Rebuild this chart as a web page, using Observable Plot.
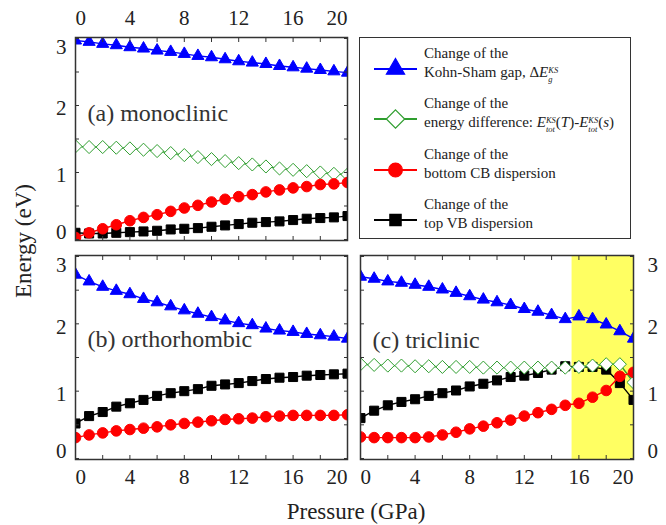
<!DOCTYPE html>
<html><head><meta charset="utf-8">
<script src="https://cdn.jsdelivr.net/npm/d3@7"></script>
<script src="https://cdn.jsdelivr.net/npm/@observablehq/plot@0.6"></script>
<style>
body{margin:0;background:#fff;}
#wrap{position:relative;width:666px;height:525px;font-family:"Liberation Serif","Times New Roman",serif;color:#222;overflow:hidden;}
.panel{position:absolute;}
.panel svg{overflow:visible;}
#legend{position:absolute;left:359px;top:37px;width:270px;height:200px;border:1.5px solid #333;}
.entry{position:absolute;left:0;width:270px;height:40px;}
.entry svg{position:absolute;left:13px;top:12px;}
.entry .txt{position:absolute;left:64px;top:0;font-size:15px;line-height:19px;white-space:nowrap;color:#222;}
.sx{display:inline-block;vertical-align:-5px;font-size:8.5px;line-height:9px;font-style:italic;}
.sx span{display:block;}
.title{position:absolute;font-family:"Liberation Serif","Times New Roman",serif;font-size:23px;white-space:nowrap;color:#222;}
</style></head><body><div id="wrap"></div>
<script>
// ---------- data ----------
const pressureGPa = [0,1,2,3,4,5,6,7,8,9,10,11,12,13,14,15,16,17,18,19,20];

// (a) monoclinic
const monoGap        = [2.97,2.95,2.92,2.90,2.87,2.85,2.82,2.80,2.77,2.74,2.72,2.69,2.66,2.64,2.62,2.59,2.57,2.55,2.53,2.51,2.49];
const monoEnergyDiff = [1.39,1.38,1.38,1.37,1.36,1.34,1.32,1.29,1.26,1.23,1.20,1.17,1.14,1.12,1.09,1.06,1.04,1.02,1.00,0.98,0.97];
const monoCB         = [0.03,0.10,0.16,0.22,0.28,0.33,0.37,0.42,0.47,0.51,0.56,0.60,0.64,0.67,0.71,0.74,0.77,0.79,0.82,0.83,0.85];
const monoVB         = [0.10,0.09,0.09,0.10,0.11,0.12,0.13,0.15,0.16,0.17,0.19,0.21,0.23,0.25,0.26,0.27,0.29,0.31,0.32,0.33,0.35];

// (b) orthorhombic
const orthoGap = [2.73,2.63,2.55,2.49,2.44,2.37,2.32,2.26,2.20,2.15,2.10,2.05,2.01,1.98,1.93,1.90,1.88,1.85,1.83,1.81,1.78];
const orthoCB  = [0.31,0.35,0.38,0.41,0.43,0.45,0.47,0.50,0.52,0.54,0.56,0.58,0.59,0.60,0.62,0.63,0.64,0.64,0.64,0.64,0.65];
const orthoVB  = [0.52,0.63,0.69,0.77,0.82,0.87,0.93,0.97,1.00,1.03,1.08,1.10,1.12,1.15,1.18,1.20,1.21,1.23,1.24,1.25,1.26];

// (c) triclinic
const tricGap        = [2.70,2.67,2.63,2.61,2.58,2.55,2.51,2.46,2.41,2.36,2.32,2.28,2.22,2.18,2.13,2.07,2.11,2.07,1.99,1.89,1.78];
const tricEnergyDiff = [1.40,1.39,1.38,1.38,1.37,1.37,1.36,1.36,1.36,1.35,1.35,1.35,1.35,1.35,1.35,1.35,1.36,1.38,1.40,1.40,1.13];
const tricCB         = [0.32,0.31,0.31,0.31,0.31,0.32,0.35,0.39,0.44,0.48,0.53,0.57,0.63,0.68,0.73,0.79,0.82,0.91,1.01,1.22,1.28];
const tricVB         = [0.60,0.71,0.79,0.84,0.88,0.93,0.97,1.01,1.07,1.11,1.16,1.21,1.23,1.27,1.32,1.37,1.36,1.36,1.32,1.12,0.87];
const tricHighlight  = [15.5, 20];

// axes
const xTicks = [0,2,4,6,8,10,12,14,16,18,20];
const xTickLabels = [0,4,8,12,16,20];
const yTicks = [0,0.5,1,1.5,2,2.5,3];
const yTickLabels = [0,1,2,3];

// ---------- styles ----------
const FRAME = "#333";
const HIGHLIGHT = "#ffff62";
const styles = {
  vb:   {color:"#000000", symbol:"square",   r:5.1, fill:"#000000", sw:1},
  diff: {color:"#2f9e2f", symbol:"diamond2", r:5.9, fill:"#ffffff", sw:1},
  cb:   {color:"#ff0000", symbol:"circle",   r:5.3, fill:"#ff0000", sw:1},
  gap:  {color:"#0000ff", symbol:"triangle", r:4.5, fill:"#0000ff", sw:1}
};
const drawOrder = ["vb","diff","cb","gap"];
const FS = 21;

function makePanel(cfg) {
  const marks = [];
  if (cfg.highlight) marks.push(Plot.rect([cfg.highlight], {x1: d => d[0], x2: d => d[1], fill: HIGHLIGHT}));
  for (const key of drawOrder) {
    const vals = cfg.series[key];
    if (!vals) continue;
    const st = styles[key];
    const rows = pressureGPa.map((p, i) => ({p, v: vals[i]}));
    marks.push(Plot.line(rows, {x: "p", y: "v", stroke: st.color, strokeWidth: 1.4, clip: true}));
    marks.push(Plot.dot(rows, {x: "p", y: "v", symbol: st.symbol, r: st.r, fill: st.fill, stroke: st.color, strokeWidth: st.sw, clip: true}));
  }
  for (const a of ["top","bottom"]) marks.push(Plot.axisX({anchor: a, ticks: xTicks, tickSize: -4, tickFormat: () => "", label: null, stroke: FRAME}));
  for (const a of ["left","right"]) marks.push(Plot.axisY({anchor: a, ticks: yTicks, tickSize: -4, tickFormat: () => "", label: null, stroke: FRAME}));
  marks.push(Plot.frame({stroke: FRAME, strokeWidth: 1.5}));

  // x tick labels
  const xa = cfg.xAxis, xdy = xa === "top" ? -19 : 18;
  const mid = xTickLabels.slice(1, -1);
  const xt = {frameAnchor: xa, dy: xdy, fontSize: FS, fill: "#222", lineAnchor: "middle"};
  marks.push(Plot.text(mid, {x: d => d, ...xt}));
  marks.push(Plot.text([xTickLabels[0]], {x: d => d, textAnchor: "start", ...xt}));
  marks.push(Plot.text([xTickLabels[xTickLabels.length - 1]], {x: d => d, textAnchor: "end", ...xt}));

  // y tick labels
  const ya = cfg.yAxis;
  const yt = {frameAnchor: ya, dx: ya === "left" ? -9 : 14, textAnchor: ya === "left" ? "end" : "start", fontSize: FS, fill: "#222"};
  marks.push(Plot.text(yTickLabels.slice(1, -1), {y: d => d, lineAnchor: "middle", dy: 3, ...yt}));
  marks.push(Plot.text([yTickLabels[0]], {y: d => d, lineAnchor: "bottom", dy: 0, ...yt}));
  marks.push(Plot.text([yTickLabels[yTickLabels.length - 1]], {y: d => d, lineAnchor: "top", dy: 1, ...yt}));

  // panel label
  marks.push(Plot.text([cfg.label], {text: d => d, frameAnchor: "left", y: () => cfg.labelY, dx: 12, textAnchor: "start", fontSize: 24, fill: "#333"}));

  return Plot.plot({
    width: cfg.width, height: cfg.height,
    marginLeft: cfg.ml, marginRight: cfg.mr, marginTop: cfg.mt, marginBottom: cfg.mb,
    style: {background: "transparent", fontFamily: '"Liberation Serif","Times New Roman",serif', overflow: "visible"},
    x: {domain: [0, 20], label: null},
    y: {domain: [-0.015, 3.015], label: null},
    marks
  });
}

const wrap = document.getElementById("wrap");
function place(node, left, top) {
  const d = document.createElement("div");
  d.className = "panel";
  d.style.left = left + "px"; d.style.top = top + "px";
  d.appendChild(node);
  wrap.appendChild(d);
}

place(makePanel({
  series: {gap: monoGap, diff: monoEnergyDiff, cb: monoCB, vb: monoVB},
  xAxis: "top", yAxis: "left", label: "(a) monoclinic", labelY: 1.88,
  width: 355, height: 245, ml: 75, mr: 8, mt: 37, mb: 5
}), 0, 0);

place(makePanel({
  series: {gap: orthoGap, cb: orthoCB, vb: orthoVB},
  xAxis: "bottom", yAxis: "left", label: "(b) orthorhombic", labelY: 1.77,
  width: 355, height: 255, ml: 75, mr: 8, mt: 10, mb: 41
}), 0, 245);

place(makePanel({
  series: {gap: tricGap, diff: tricEnergyDiff, cb: tricCB, vb: tricVB},
  xAxis: "bottom", yAxis: "right", label: "(c) triclinic", labelY: 1.76,
  highlight: tricHighlight,
  width: 311, height: 255, ml: 5, mr: 33, mt: 10, mb: 41
}), 355, 245);

// ---------- legend ----------
const legendEntries = [
  {key: "gap",  html: 'Change of the<br>Kohn-Sham gap, &Delta;<i>E</i><span class="sx"><span>KS</span><span>g</span></span>'},
  {key: "diff", html: 'Change of the<br>energy difference: <i>E</i><span class="sx"><span>KS</span><span>tot</span></span>(<i>T</i>)-<i>E</i><span class="sx"><span>KS</span><span>tot</span></span>(<i>s</i>)'},
  {key: "cb",   html: 'Change of the<br>bottom CB dispersion'},
  {key: "vb",   html: 'Change of the<br>top VB dispersion'}
];
const legendScale = {gap: 1.5, diff: 1.4, cb: 1.3, vb: 1.25};
const legend = document.createElement("div");
legend.id = "legend";
legendEntries.forEach((e, i) => {
  const st = styles[e.key];
  const div = document.createElement("div");
  div.className = "entry";
  div.style.top = (6 + 50.3 * i) + "px";
  const svg = d3.create("svg").attr("width", 46).attr("height", 26);
  svg.append("line").attr("x1", 1).attr("x2", 44).attr("y1", 13).attr("y2", 13)
     .attr("stroke", st.color).attr("stroke-width", 2);
  const symMap = {square: d3.symbolSquare, diamond2: d3.symbolDiamond2, circle: d3.symbolCircle, triangle: d3.symbolTriangle};
  const rr = st.r * legendScale[e.key];
  svg.append("path").attr("transform", "translate(22.5,13)")
     .attr("d", d3.symbol(symMap[st.symbol], Math.PI * rr * rr)())
     .attr("fill", st.fill).attr("stroke", st.color).attr("stroke-width", 1.2);
  div.appendChild(svg.node());
  const t = document.createElement("div");
  t.className = "txt";
  t.innerHTML = e.html;
  div.appendChild(t);
  legend.appendChild(div);
});
wrap.appendChild(legend);

// ---------- axis titles ----------
const yTitle = document.createElement("div");
yTitle.className = "title";
yTitle.textContent = "Energy (eV)";
yTitle.style.left = "24px"; yTitle.style.top = "241px";
yTitle.style.transform = "translate(-50%,-50%) rotate(-90deg)";
wrap.appendChild(yTitle);

const xTitle = document.createElement("div");
xTitle.className = "title";
xTitle.textContent = "Pressure (GPa)";
xTitle.style.left = "356px"; xTitle.style.top = "512px";
xTitle.style.transform = "translate(-50%,-50%)";
wrap.appendChild(xTitle);
</script>
</body></html>
